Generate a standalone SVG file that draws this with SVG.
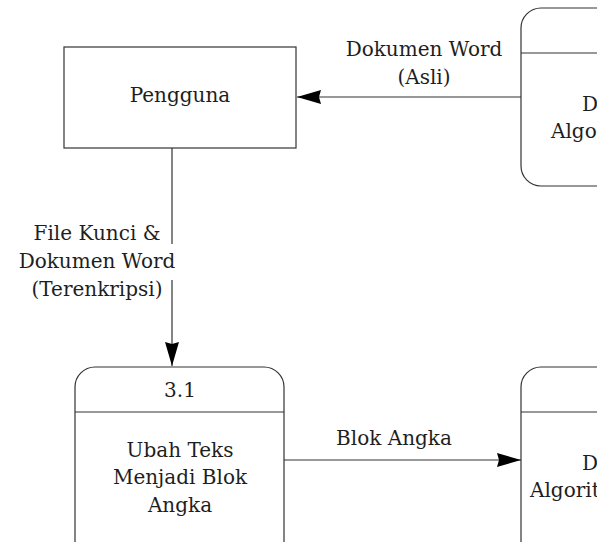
<svg xmlns="http://www.w3.org/2000/svg" width="597" height="542" viewBox="0 0 597 542">
  <style>
    .box { fill: #ffffff; stroke: #333333; stroke-width: 1.2; }
    .div { stroke: #333333; stroke-width: 1.2; }
    .flow { fill: none; stroke: #333333; stroke-width: 1.2; }
    .t { font-family: "DejaVu Serif", "Liberation Serif", serif; font-size: 20px; fill: #1e1e1e; }
    .c { text-anchor: middle; }
  </style>
  <defs>
    <marker id="arrow" viewBox="0 0 24 14" refX="24" refY="7" markerWidth="24" markerHeight="14" markerUnits="userSpaceOnUse" orient="auto">
      <path d="M0,0 L24,7 L0,14 L2,7 Z" fill="#000000"/>
    </marker>
  </defs>
  <rect width="597" height="542" fill="#ffffff"/>

  <!-- external entity -->
  <g id="pengguna">
    <rect class="box" x="64" y="47" width="232" height="101"/>
    <text class="t c" x="180" y="102">Pengguna</text>
  </g>

  <!-- process (top right, partly off-canvas) -->
  <g id="proses-dekripsi">
    <rect class="box" x="521" y="8" width="160" height="178" rx="20" ry="20"/>
    <line class="div" x1="521" y1="53" x2="681" y2="53"/>
    <text class="t" x="582" y="111">D</text>
    <text class="t" x="551" y="138">Algoritma</text>
  </g>

  <!-- process 3.1 -->
  <g id="proses-3-1">
    <rect class="box" x="75" y="367" width="209" height="200" rx="20" ry="20"/>
    <line class="div" x1="75" y1="412" x2="284" y2="412"/>
    <text class="t c" x="180" y="397">3.1</text>
    <text class="t c" x="180" y="457">Ubah Teks</text>
    <text class="t c" x="180" y="484">Menjadi Blok</text>
    <text class="t c" x="180" y="512">Angka</text>
  </g>

  <!-- process (bottom right, partly off-canvas) -->
  <g id="proses-algoritma">
    <rect class="box" x="521" y="367" width="160" height="200" rx="20" ry="20"/>
    <line class="div" x1="521" y1="412" x2="681" y2="412"/>
    <text class="t" x="582" y="470">D</text>
    <text class="t" x="530" y="497">Algoritma</text>
  </g>

  <!-- data flows -->
  <g id="connectors">
    <line class="flow" x1="521" y1="97" x2="297" y2="97" marker-end="url(#arrow)"/>
    <text class="t c" x="424" y="56">Dokumen Word</text>
    <text class="t c" x="424" y="84">(Asli)</text>

    <line class="flow" x1="172" y1="148" x2="172" y2="366" marker-end="url(#arrow)"/>
    <rect x="157" y="244" width="70" height="36" fill="#ffffff"/>
    <text class="t c" x="97" y="240">File Kunci &amp;</text>
    <text class="t c" x="97" y="268">Dokumen Word</text>
    <text class="t c" x="97" y="296">(Terenkripsi)</text>

    <line class="flow" x1="284" y1="460" x2="521" y2="460" marker-end="url(#arrow)"/>
    <text class="t c" x="394" y="445">Blok Angka</text>
  </g>
</svg>
